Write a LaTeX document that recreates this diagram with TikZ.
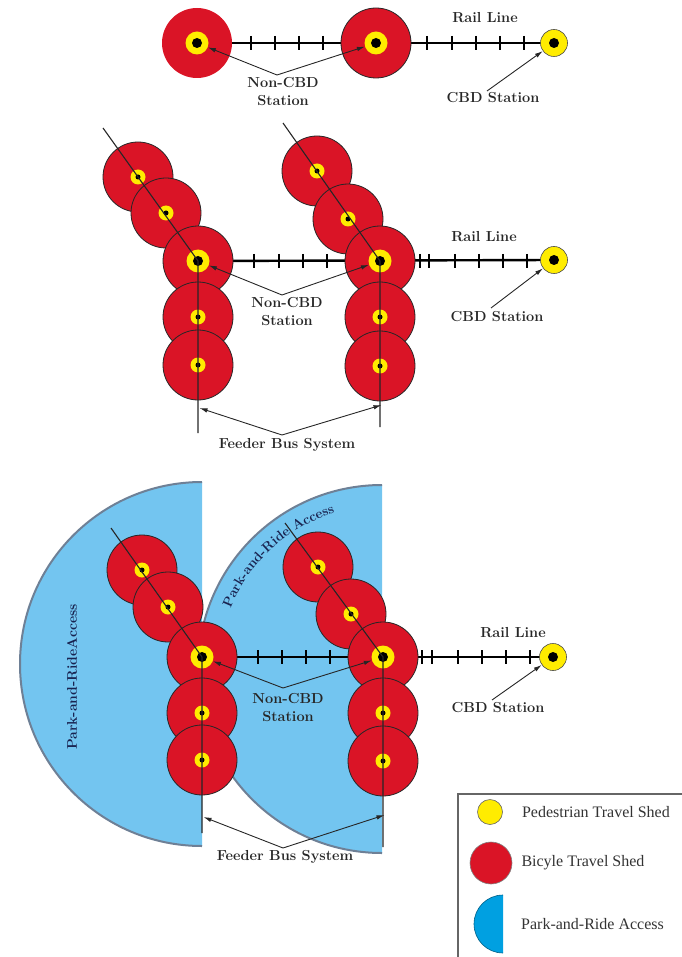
\documentclass[tikz,border=0pt]{standalone}
\usepackage{fontspec}
\usepackage{xcolor}
\usetikzlibrary{calc,
	positioning,
	arrows.meta,
	decorations.text}
\newfontfamily\legendfont{Liberation Serif}
\definecolor{shedred}{RGB}{218,20,38}
\definecolor{shedyellow}{RGB}{255,236,0}
\definecolor{parkblue}{RGB}{115,197,240}
\definecolor{parkedge}{RGB}{110,128,150}
\definecolor{legblue}{RGB}{0,160,225}
\definecolor{labelnavy}{RGB}{25,35,80}
\tikzstyle{bike}=[circle, draw=black!85, line width=0.8pt, fill=shedred, minimum size=70pt, inner sep=0]
\tikzstyle{ped}=[circle, fill=shedyellow, minimum size=23pt, inner sep=0]
\tikzstyle{pedsm}=[circle, fill=shedyellow, minimum size=15pt, inner sep=0]
\tikzstyle{stn}=[circle, fill=black, minimum size=10pt, inner sep=0]
\tikzstyle{stnsm}=[circle, fill=black, minimum size=5pt, inner sep=0]
\tikzstyle{cbd}=[circle, draw=black!70, line width=0.6pt, fill=shedyellow, minimum size=27pt, inner sep=0]
\tikzstyle{rail}=[line width=2.4pt]
\tikzstyle{tie}=[line width=1.6pt]
\tikzstyle{feeder}=[line width=1.1pt, black!85]
\tikzstyle{lbl}=[font=\fontsize{14.5}{18}\selectfont\bfseries, text=black!85, align=center, inner sep=0]
\tikzstyle{ptr}=[-{Latex[length=8pt,width=4.5pt]}, line width=0.9pt, black!85]
\tikzstyle{legtxt}=[font=\legendfont\fontsize{16}{18}\selectfont, text=black!80, inner sep=0]

\begin{document}
\begin{tikzpicture}[x=1pt, y=-1pt]
	\useasboundingbox (0,0) rectangle (681,957);

	% top
	\coordinate (ta) at (197,43);
	\coordinate (tb) at (376,43);
	\coordinate (tc) at (554,43);
	\draw[rail] (ta) -- (tc);
	\foreach \x in {251,275,299,323,427,452,476,500,524}
		\draw[tie] (\x,36) -- (\x,50);
	\node[bike, draw=none] (tbike1) at (ta) {};
	\node[bike] (tbike2) at (tb) {};
	\node[ped] (tped1) at (ta) {}; \node[stn] (tdot1) at (ta) {};
	\node[ped] (tped2) at (tb) {}; \node[stn] (tdot2) at (tb) {};
	\node[cbd] (tcbd) at (tc) {}; \node[stn] (tdot3) at (tc) {};
	\node[lbl] (trail) at (485,18) {Rail Line};
	\node[lbl] (tnon) at (283,92) {Non-CBD\\Station};
	\coordinate (tnj) at (277,75);
	\draw[ptr] (tnj) -- (tped1);
	\draw[ptr] (tnj) -- (tped2);
	\node[lbl] (tcbdlbl) at (493,98) {CBD Station};
	\coordinate (tcj) at (487,91);
	\draw[ptr] (tcj) -- (tcbd);

	% middle
	\coordinate (ml) at (198,261);
	\coordinate (mr) at (380,261);
	\coordinate (mc) at (554,260);
	\draw[rail] (ml) -- (mc);
	\foreach \x in {254,279,303,327,420,429,455,479,503,527}
		\draw[tie] (\x,254) -- (\x,268);
	\foreach \p [count=\i] in {(138,177),(166,213),(198,261),(198,317),(198,365)}
		\node[bike] (mlbike\i) at \p {};
	\foreach \p [count=\i] in {(317,171),(348,219),(380,261),(380,317),(380,366)}
		\node[bike] (mrbike\i) at \p {};
	\foreach \i in {1,2,4,5} {
		\node[pedsm] (mlped\i) at (mlbike\i) {}; \node[stnsm] (mldot\i) at (mlbike\i) {};
		\node[pedsm] (mrped\i) at (mrbike\i) {}; \node[stnsm] (mrdot\i) at (mrbike\i) {};
	}
	\node[ped] (mlped3) at (ml) {}; \node[stn] (mldot3) at (ml) {};
	\node[ped] (mrped3) at (mr) {}; \node[stn] (mrdot3) at (mr) {};
	\node[cbd] (mcbd) at (mc) {}; \node[stn] (mcdot) at (mc) {};
	\coordinate (mltop) at (103,128);
	\coordinate (mlend) at (198,433);
	\coordinate (mrtop) at (283,123);
	\coordinate (mrend) at (380,427);
	\draw[feeder] (mltop) -- (ml) -- (mlend);
	\draw[feeder] (mrtop) -- (mr) -- (mrend);
	\node[lbl] (mrail) at (484,237) {Rail Line};
	\node[lbl] (mnon) at (287,312) {Non-CBD\\Station};
	\coordinate (mnj) at (282,295);
	\draw[ptr] (mnj) -- (mlped3);
	\draw[ptr] (mnj) -- (mrped3);
	\node[lbl] (mcbdlbl) at (497,317) {CBD Station};
	\coordinate (mcj) at (491,308);
	\draw[ptr] (mcj) -- (mcbd);
	\node[lbl] (mfeed) at (287,445) {Feeder Bus System};
	\coordinate (mfj) at (282,435);
	\coordinate (mlbus) at (199.5,408);
	\coordinate (mrbus) at (381.5,405);
	\draw[ptr] (mfj) -- (mlbus);
	\draw[ptr] (mfj) -- (mrbus);

	% bottom
	\coordinate (bpl) at (202,664);
	\coordinate (bpr) at (382,669);
	\fill[parkblue] (202,482) arc[start angle=-90, end angle=-270, radius=182] -- cycle;
	\draw[parkedge, line width=2pt] (202,482) arc[start angle=-90, end angle=-270, radius=182];
	\fill[parkblue] (382,485) arc[start angle=-90, end angle=-270, radius=184] -- cycle;
	\draw[parkedge, line width=2pt] (382,485) arc[start angle=-90, end angle=-270, radius=184];
	\path[decorate, decoration={text along path, text align=center, text color=labelnavy,
		text={|\fontsize{13.5}{15}\selectfont\bfseries|Park-and-Ride Access}}]
		($(bpr)+(-165:163)$) arc[start angle=-165, end angle=-100, radius=163];
	\node[lbl, rotate=90, text=labelnavy, font=\fontsize{14}{16}\selectfont\bfseries] (bpark) at (72,677) {Park-and-RideAccess};

	\coordinate (bl) at (202,657);
	\coordinate (br) at (383,657);
	\coordinate (bc) at (553,657);
	\draw[rail] (bl) -- (bc);
	\foreach \x in {258,282,306,330,422,432,458,482,506,530}
		\draw[tie] (\x,650) -- (\x,664);
	\foreach \p [count=\i] in {(142,570),(168,607),(202,657),(202,713),(202,760)}
		\node[bike] (blbike\i) at \p {};
	\foreach \p [count=\i] in {(318,567),(351,614),(383,657),(383,713),(383,761)}
		\node[bike] (brbike\i) at \p {};
	\foreach \i in {1,2,4,5} {
		\node[pedsm] (blped\i) at (blbike\i) {}; \node[stnsm] (bldot\i) at (blbike\i) {};
		\node[pedsm] (brped\i) at (brbike\i) {}; \node[stnsm] (brdot\i) at (brbike\i) {};
	}
	\node[ped] (blped3) at (bl) {}; \node[stn] (bldot3) at (bl) {};
	\node[ped] (brped3) at (br) {}; \node[stn] (brdot3) at (br) {};
	\node[cbd] (bcbd) at (bc) {}; \node[stn] (bcdot) at (bc) {};
	\coordinate (bltop) at (111,528);
	\coordinate (blend) at (202,833);
	\coordinate (brtop) at (285,523);
	\coordinate (brend) at (383,847);
	\draw[feeder] (bltop) -- (bl) -- (blend);
	\draw[feeder] (brtop) -- (br) -- (brend);
	\node[lbl] (brail) at (513,633) {Rail Line};
	\node[lbl] (bnon) at (288,708) {Non-CBD\\Station};
	\coordinate (bnj) at (283,688);
	\draw[ptr] (bnj) -- (blped3);
	\draw[ptr] (bnj) -- (brped3);
	\node[lbl] (bcbdlbl) at (498,708) {CBD Station};
	\coordinate (bcj) at (492,700);
	\draw[ptr] (bcj) -- (bcbd);
	\node[lbl] (bfeed) at (285,857) {Feeder Bus System};
	\coordinate (bfj) at (283,848);
	\coordinate (blbus) at (203.5,817);
	\coordinate (brbus) at (384.5,815);
	\draw[ptr] (bfj) -- (blbus);
	\draw[ptr] (bfj) -- (brbus);

	% legend
	\draw[black!60, line width=1.5pt] (458,794) rectangle (700,980);
	\node[circle, fill=shedyellow, draw=black!60, line width=0.6pt, minimum size=25pt, inner sep=0] (legped) at (490,812) {};
	\node[legtxt, right=19pt of legped] (legpedtxt) {Pedestrian Travel Shed};
	\node[circle, fill=shedred, draw=black!50, line width=0.6pt, minimum size=42pt, inner sep=0] (legbike) at (491,863) {};
	\node[legtxt, right=9pt of legbike] (legbiketxt) {Bicyle Travel Shed};
	\coordinate (legpark) at (503,924);
	\fill[legblue] (503,895) arc[start angle=-90, end angle=-270, radius=29] -- cycle;
	\draw[legblue!60!black, line width=0.6pt] (503,895) arc[start angle=-90, end angle=-270, radius=29];
	\node[legtxt, right=18pt of legpark] (legparktxt) {Park-and-Ride Access};
\end{tikzpicture}
\end{document}
